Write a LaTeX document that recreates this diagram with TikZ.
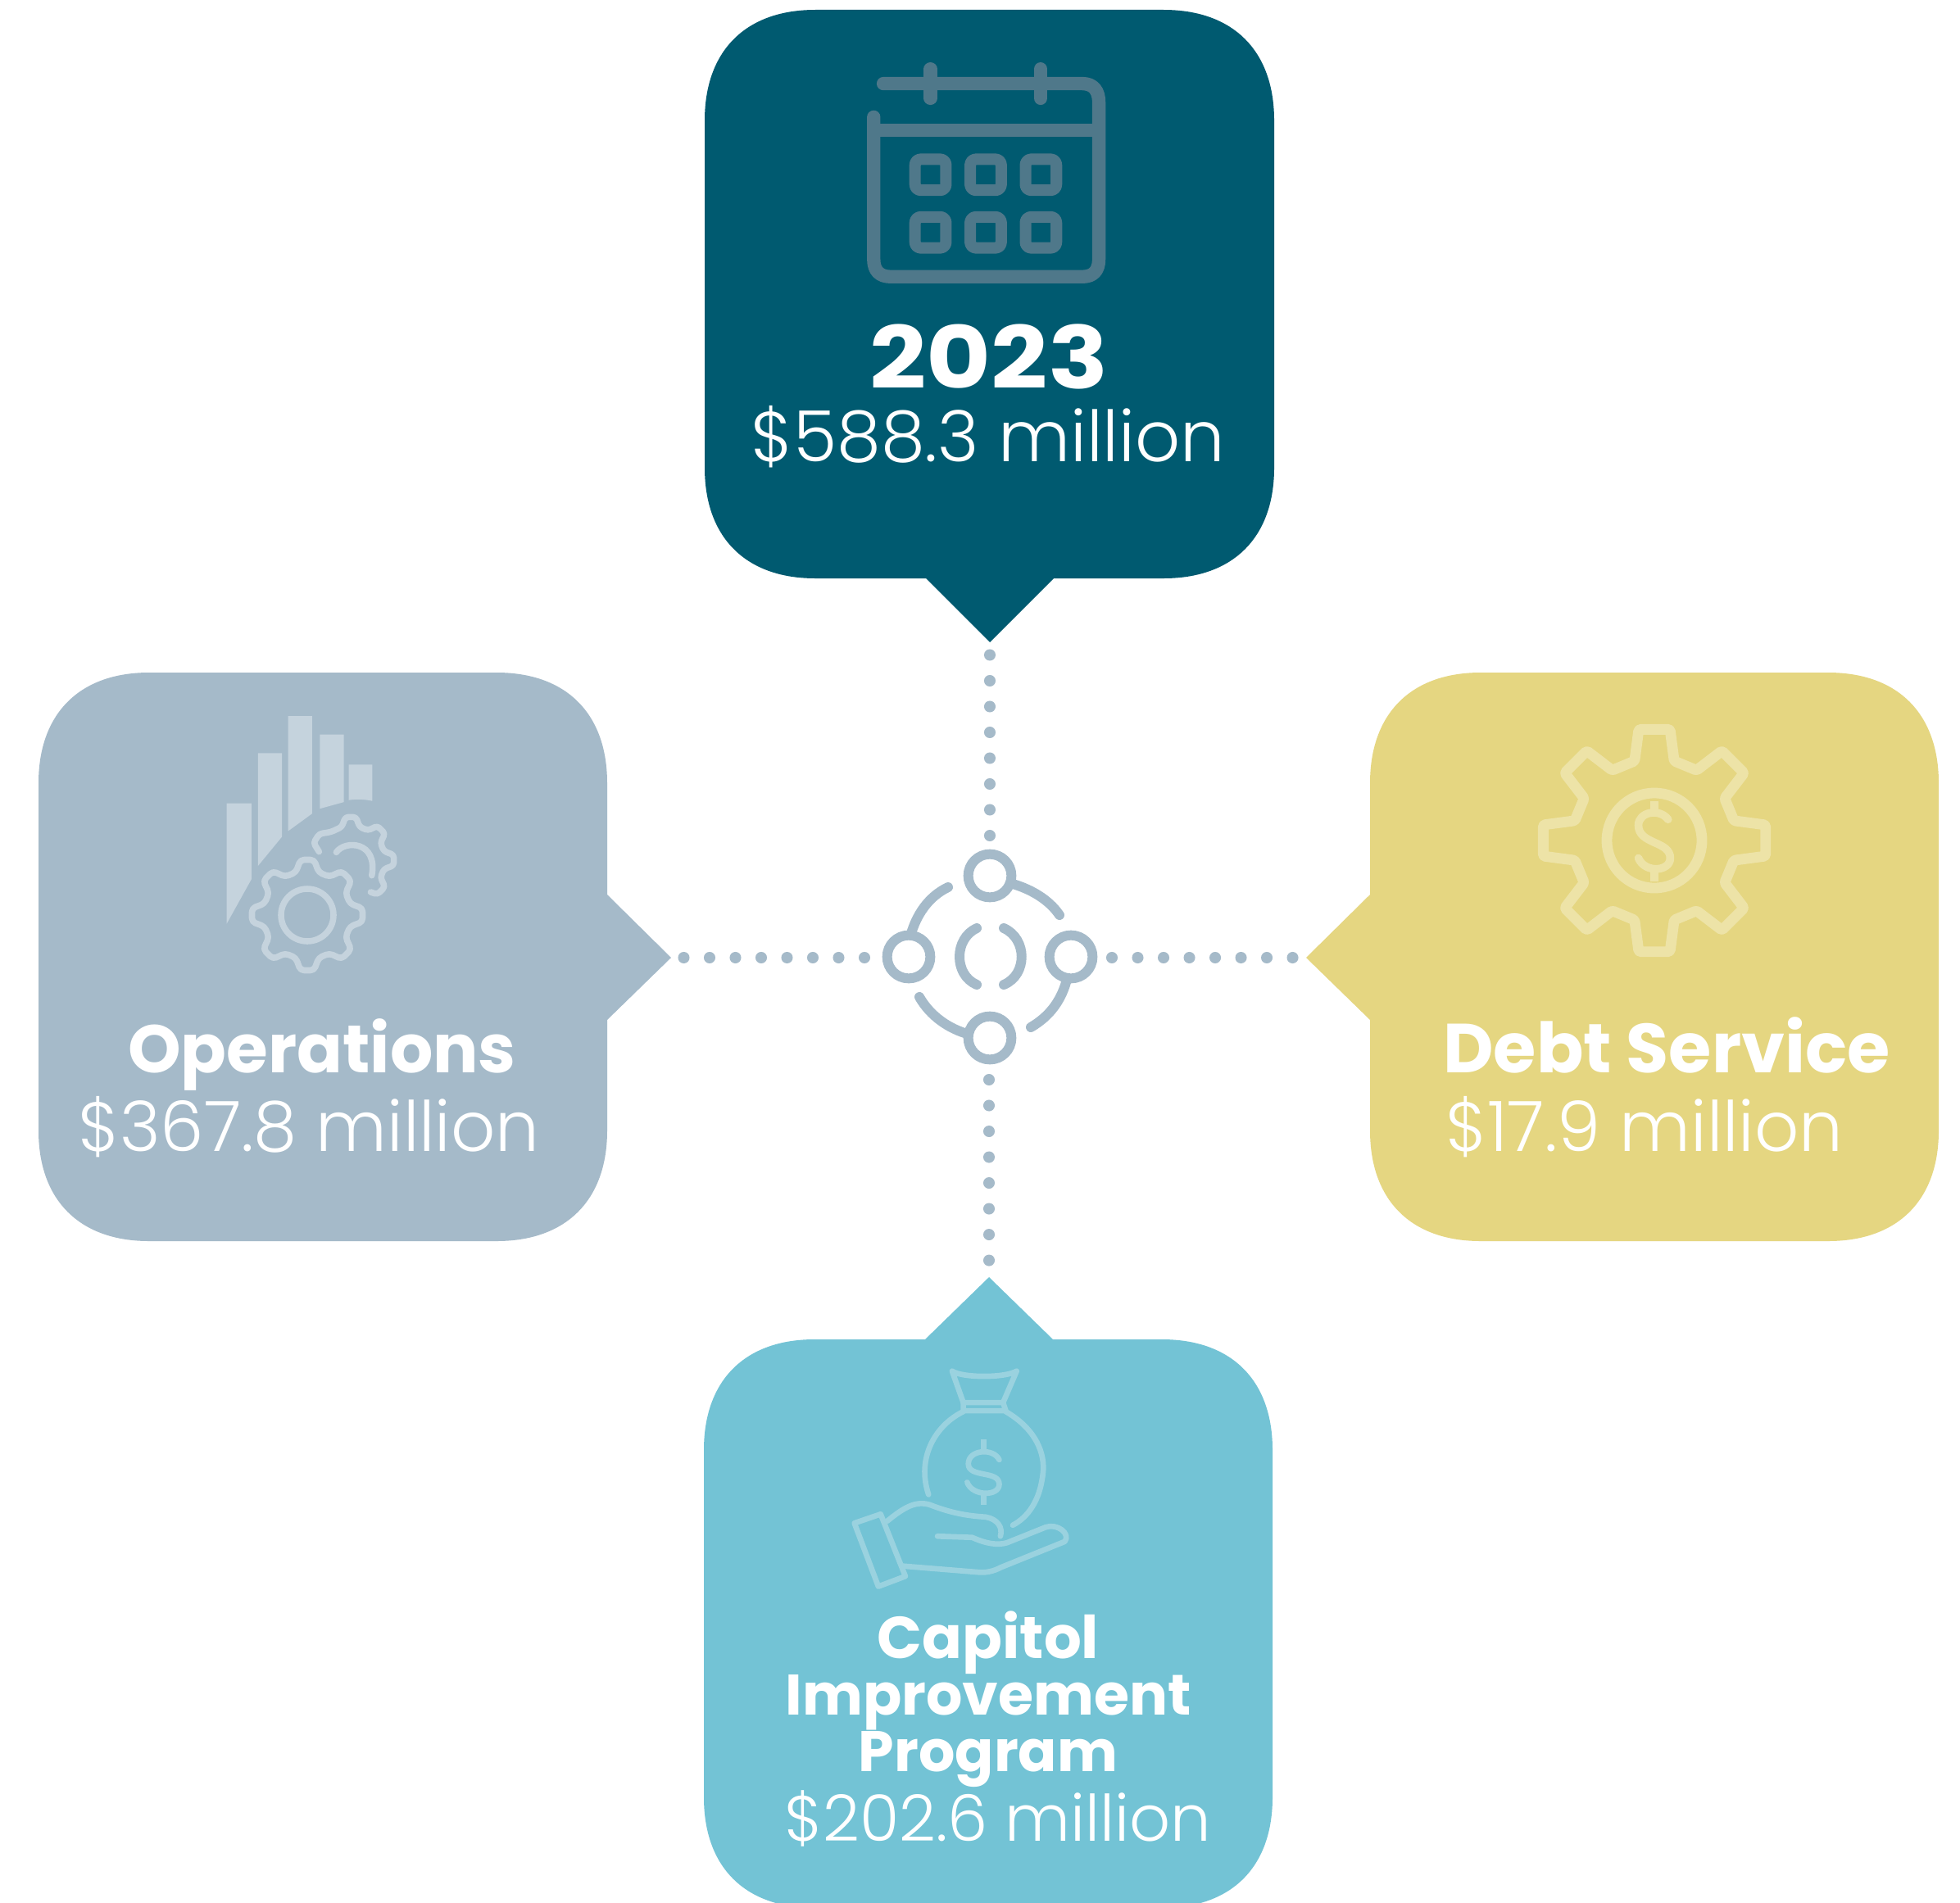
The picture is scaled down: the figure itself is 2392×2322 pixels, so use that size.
\documentclass[tikz,border=0pt]{standalone}
\usepackage{fontspec}
\setmainfont{Poppins}
\newfontfamily\boldf{Poppins}[UprightFont=* Bold]
\newfontfamily\widef{Poppins}[UprightFont=* Bold,FakeStretch=1.15]
\newfontfamily\lightf{Poppins}[UprightFont=* Light]
\definecolor{cTop}{HTML}{005A70}
\definecolor{iTop}{HTML}{4F788A}
\definecolor{cLeft}{HTML}{A5BAC9}
\definecolor{iLeft}{HTML}{C5D3DD}
\definecolor{cRight}{HTML}{E5D681}
\definecolor{iRight}{HTML}{EDE3A7}
\definecolor{cBot}{HTML}{73C3D5}
\definecolor{iBot}{HTML}{9AD2DF}
\definecolor{cDot}{HTML}{A5BAC9}
\tikzset{
  x=0.02cm,y=-0.02cm,
  dotline/.style={cDot,line cap=round,line width=8pt,dash pattern=on 0pt off 17.93pt},
  ring/.style={circle,draw=cDot,line width=6.8pt,minimum size=30pt,inner sep=0pt,outer sep=0pt},
  arcline/.style={cDot,line width=6.8pt,line cap=round},
  icon/.style={line join=round,line cap=round,fill=none},
  lab/.style={anchor=base,inner sep=0pt,text=white},
  hd/.style={lab,font=\boldf\fontsize{46.8}{46.8}\selectfont},
  hdb/.style={lab,font=\boldf\fontsize{39.7}{39.7}\selectfont},
  amt/.style={lab,font=\lightf\fontsize{48.3}{48.3}\selectfont},
}
\usetikzlibrary{calc}
% #1 centre, #2 tip r, #3 base r, #4 tip half angle, #5 base half angle : closed 8-tooth gear
\newcommand{\gearpath}[5]{%
  ($(#1)+(90-#4:#2)$) -- ($(#1)+(90-#5:#3)$)
  \foreach \a in {45,0,-45,-90,-135,-180,-225}{ -- ($(#1)+(\a+#5:#3)$) -- ($(#1)+(\a+#4:#2)$) -- ($(#1)+(\a-#4:#2)$) -- ($(#1)+(\a-#5:#3)$) }
  -- ($(#1)+(90+#5:#3)$) -- ($(#1)+(90+#4:#2)$) -- cycle}
\begin{document}
\begin{tikzpicture}
\useasboundingbox (0,0) rectangle (2392,2322);
\fill[white] (0,0) rectangle (2392,2322);
% top box
\fill[cTop] (995,12) -- (1420,12) .. controls (1505,12) and (1555,62) .. (1555,147)
 -- (1555,571) .. controls (1555,656) and (1505,706) .. (1420,706)
 -- (1286,706) -- (1208,784) coordinate (tipT) -- (1130,706)
 -- (995,706) .. controls (910,706) and (860,656) .. (860,571)
 -- (860,147) .. controls (860,62) and (910,12) .. (995,12) -- cycle;
% left box
\fill[cLeft] (182,821) -- (606,821) .. controls (691,821) and (741,871) .. (741,956)
 -- (741,1092) -- (819,1169) coordinate (tipL) -- (741,1245)
 -- (741,1380) .. controls (741,1465) and (691,1515) .. (606,1515)
 -- (182,1515) .. controls (97,1515) and (47,1465) .. (47,1380)
 -- (47,956) .. controls (47,871) and (97,821) .. (182,821) -- cycle;
% right box
\fill[cRight] (1807,821) -- (2231,821) .. controls (2316,821) and (2366,871) .. (2366,956)
 -- (2366,1380) .. controls (2366,1465) and (2316,1515) .. (2231,1515)
 -- (1807,1515) .. controls (1722,1515) and (1672,1465) .. (1672,1380)
 -- (1672,1245) -- (1594,1169) coordinate (tipR) -- (1672,1092)
 -- (1672,956) .. controls (1672,871) and (1722,821) .. (1807,821) -- cycle;
% bottom box
\begin{scope}
\clip (0,0) rectangle (2392,2322);
\fill[cBot] (994,1635) -- (1129,1635) -- (1207,1559) coordinate (tipB) -- (1285,1635)
 -- (1418,1635) .. controls (1503,1635) and (1553,1685) .. (1553,1770)
 -- (1553,2194) .. controls (1553,2279) and (1503,2329) .. (1418,2329)
 -- (994,2329) .. controls (909,2329) and (859,2279) .. (859,2194)
 -- (859,1770) .. controls (859,1685) and (909,1635) .. (994,1635) -- cycle;
\end{scope}

% calendar icon
\begin{scope}[shift={(840,0)},x=0.009434cm,y=-0.010204cm,icon,draw=iTop,line width=9.3pt]
 \draw (505,200) -- (1020,200) .. controls (1050,200) and (1063,218) .. (1063,245) -- (1063,620)
   .. controls (1063,648) and (1048,662) .. (1020,662) -- (525,662) .. controls (495,662) and (480,648) .. (480,620) -- (480,280);
 \draw[line cap=butt] (480,312) -- (1063,312);
 \draw (627,165) -- (627,235);
 \draw (912,165) -- (912,235);
 \foreach \cx in {627,770,913}\foreach \cy in {418,556}{
  \draw[line width=8pt,rounded corners=4pt] (\cx-40,\cy-37) rectangle (\cx+40,\cy+37);
 }
\end{scope}

% operations icon
\begin{scope}[shift={(20,800)},x=0.010204cm,y=-0.009434cm]
 \fill[iLeft] (503,383) -- (562,383) -- (562,580) -- (503,695) -- cycle;
 \fill[iLeft] (578,253) -- (635,253) -- (635,470) -- (578,545) -- cycle;
 \fill[iLeft] (650,157) -- (707,157) -- (707,410) -- (650,455) -- cycle;
 \fill[iLeft] (726,205) -- (783,205) -- (783,380) -- (726,397) -- cycle;
 \fill[iLeft] (795,283) -- (851,283) -- (851,377) .. controls (830,372) and (810,372) .. (795,375) -- cycle;
 \draw[iLeft,line width=4.3pt,line cap=round] (765,510) .. controls (785,478) and (865,480) .. (850,570);
\end{scope}
\coordinate (og) at (375,1117);
\draw[iLeft,line width=4.3pt,line join=round,rounded corners=2.5pt] \gearpath{og}{68}{54}{7}{15};
\draw[iLeft,line width=4.3pt] (og) circle (32);
\coordinate (og2) at (428,1050);
\draw[iLeft,line width=4.3pt,line join=round,line cap=round,rounded corners=2pt]
  ($(og2)+(58:46)$) -- ($(og2)+(52:53)$) -- ($(og2)+(38:53)$) -- ($(og2)+(30:42)$)
  -- ($(og2)+(15:42)$) -- ($(og2)+(7:53)$) -- ($(og2)+(-7:53)$) -- ($(og2)+(-15:42)$)
  -- ($(og2)+(-30:42)$) -- ($(og2)+(-38:53)$) -- ($(og2)+(-52:53)$) -- ($(og2)+(-60:42)$)
  -- ($(og2)+(-75:42)$) -- ($(og2)+(-83:53)$) -- ($(og2)+(-97:53)$) -- ($(og2)+(-105:42)$)
  -- ($(og2)+(-125:42)$) -- ($(og2)+(-140:50)$) -- ($(og2)+(-155:50)$) -- ($(og2)+(-165:40)$);

% debt gear
\coordinate (dg) at (2019,1026);
\draw[iRight,line width=7.3pt,line join=round,rounded corners=1pt] \gearpath{dg}{137}{100}{8}{14};
\draw[iRight,line width=7.3pt] (dg) circle (58);
\begin{scope}[shift={(1580,800)},x=0.010363cm,y=-0.009434cm,icon,draw=iRight,line width=5.5pt]
 \draw (880,425) .. controls (860,395) and (810,405) .. (810,440) .. controls (810,490) and (885,480) .. (885,525) .. controls (885,560) and (825,565) .. (810,525);
 \draw[line cap=butt] (847,378) -- (847,405);
 \draw[line cap=butt] (847,558) -- (847,585);
\end{scope}

% money bag and hand icon
\begin{scope}[shift={(840,1540)},x=0.009434cm,y=-0.009975cm,icon,draw=iBot,line width=3.8pt]
 \draw (683,268) .. controls (710,285) and (820,285) .. (850,268) -- (815,345) -- (712,345) -- cycle;
 \draw (712,345) -- (712,365) -- (822,365) -- (815,345);
 \draw (622,570) .. controls (590,480) and (640,400) .. (712,367);
 \draw (822,367) .. controls (900,410) and (925,470) .. (918,520) .. controls (910,585) and (880,625) .. (840,645);
 \draw (805,485) .. controls (790,455) and (725,460) .. (725,495) .. controls (725,530) and (805,510) .. (805,545) .. controls (805,575) and (735,575) .. (722,540);
 \draw[line cap=butt] (765,435) -- (765,460);
 \draw[line cap=butt] (765,570) -- (765,595);
 \draw (430,640) -- (498,618) -- (562,770) -- (492,795) -- cycle;
 \draw (515,635) .. controls (560,600) and (590,585) .. (625,595) .. controls (680,615) and (720,622) .. (770,625) .. controls (800,630) and (815,650) .. (808,672);
 \draw (645,672) -- (735,675) .. controls (770,690) and (800,695) .. (825,688) -- (925,650) .. controls (955,640) and (990,665) .. (975,685) -- (810,748) .. controls (790,758) and (770,762) .. (750,760) -- (555,745);
\end{scope}

% hub
\node[ring] (hT) at (1208,1069) {};
\node[ring] (hL) at (1109,1168) {};
\node[ring] (hR) at (1307,1168) {};
\node[ring] (hB) at (1208,1267) {};
\draw[arcline] (hT.-20) .. controls (1258,1085) and (1280,1098) .. (1293,1117);
\draw[arcline] (hL.85) .. controls (1118,1118) and (1132,1095) .. (1157,1083);
\draw[arcline] (hR.-100) .. controls (1296,1220) and (1282,1240) .. (1258,1254);
\draw[arcline] (hB.170) .. controls (1158,1256) and (1135,1240) .. (1122,1217);
\draw[arcline] (1192,1133) .. controls (1164,1146) and (1164,1190) .. (1192,1202);
\draw[arcline] (1225,1133) .. controls (1254,1146) and (1254,1190) .. (1225,1202);

% dotted connectors
\coordinate (dT) at (1208,1020);
\coordinate (dL) at (1055,1169);
\coordinate (dR) at (1357,1169);
\coordinate (dB) at (1207,1318);
\draw[dotline] (dT) -- (tipT);
\draw[dotline] (dL) -- (tipL);
\draw[dotline] (dR) -- (tipR);
\draw[dotline] (dB) -- (tipB);

% labels
\node[lab,font=\widef\fontsize{60}{60}\selectfont] (t1) at (1207,474) {2023};
\node[amt,font=\lightf\fontsize{49}{49}\selectfont] (t2) at (1206,563) {\$588.3 million};
\node[hd] (l1) at (393,1309) {Operations};
\node[amt] (l2) at (377,1405) {\$367.8 million};
\node[hd,font=\boldf\fontsize{48.2}{48.2}\selectfont] (r1) at (2034,1309) {Debt Service};
\node[amt] (r2) at (2007,1405) {\$17.9 million};
\node[hdb,font=\boldf\fontsize{41}{41}\selectfont] (b1) at (1206,2024) {Capitol};
\node[hdb] (b2) at (1206,2093) {Improvement};
\node[hdb] (b3) at (1206,2162) {Program};
\node[amt,font=\lightf\fontsize{44.5}{44.5}\selectfont] (b4) at (1218,2247) {\$202.6 million};
\end{tikzpicture}
\end{document}
